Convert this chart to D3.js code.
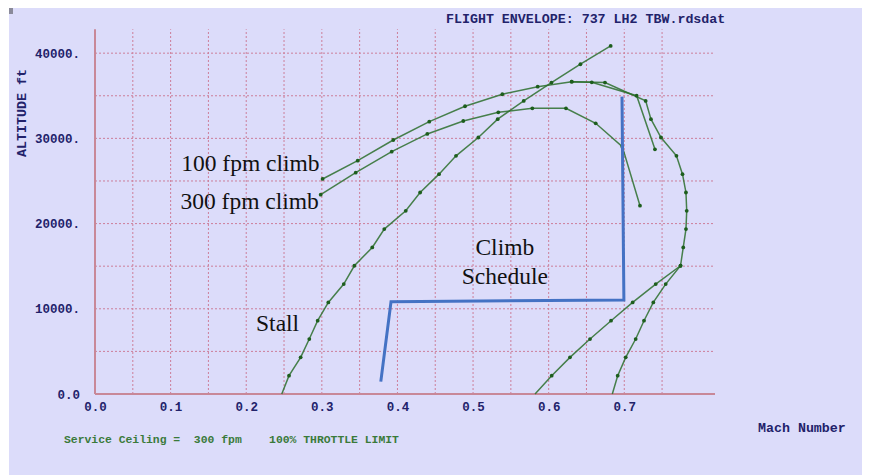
<!DOCTYPE html>
<html>
<head>
<meta charset="utf-8">
<script src="https://d3js.org/d3.v7.min.js"></script>
<style>
  body { margin: 0; background: #fff; }
  svg { display: block; }
</style>
</head>
<body>
<script>
// page size is fixed to the reference
var width = 871,
    height = 475;

// ---- data: [mach, altitude ft] ----
var stall = [
  [0.247, 0], [0.2566, 2150], [0.272, 4300], [0.2834, 6450], [0.2945, 8600],
  [0.3086, 10750], [0.329, 12900], [0.343, 15050], [0.3667, 17200], [0.3826, 19350],
  [0.411, 21500], [0.430, 23650], [0.455, 25800], [0.4775, 27950], [0.507, 30100],
  [0.5326, 32250], [0.567, 34400], [0.6037, 36550], [0.642, 38700], [0.682, 40850]
];

var climb100 = [
  [0.301, 25235], [0.3474, 27380], [0.3945, 29810], [0.4421, 31960], [0.4894, 33770],
  [0.5387, 35180], [0.5855, 36070], [0.6305, 36650], [0.6745, 36550], [0.7283, 34400],
  [0.7353, 32250], [0.7486, 30100], [0.769, 27950], [0.777, 25800], [0.7816, 23650],
  [0.7826, 21500], [0.7816, 19350], [0.778, 17200], [0.7744, 15050], [0.7548, 12900],
  [0.7384, 10750], [0.7261, 8600], [0.7151, 6450], [0.7019, 4300], [0.6913, 2150],
  [0.6842, 0]
];

var climb100Top = [
  [0.6305, 36650], [0.657, 36580], [0.7164, 35010], [0.7406, 28720]
];

var climb300 = [
  [0.2985, 23390], [0.3448, 25970], [0.3924, 28440], [0.4395, 30520], [0.4871, 32040],
  [0.5334, 33060], [0.5784, 33530], [0.6229, 33530], [0.6622, 31770], [0.6974, 29030],
  [0.7208, 22100]
];

var climb300Low = [
  [0.7744, 15050], [0.7416, 12900], [0.7111, 10750], [0.6825, 8600], [0.6547, 6450],
  [0.6282, 4300], [0.604, 2150], [0.582, 0]
];

var schedule = [
  [0.378, 1450], [0.3915, 10830], [0.6995, 11030], [0.697, 34900]
];

var machTicks = [0, 0.1, 0.2, 0.3, 0.4, 0.5, 0.6, 0.7];
var machGrid = [0.05, 0.1, 0.15, 0.2, 0.25, 0.3, 0.35, 0.4, 0.45, 0.5, 0.55, 0.6, 0.65, 0.7, 0.75];
var altTicks = [0, 10000, 20000, 30000, 40000];
var altGrid = [5000, 10000, 15000, 20000, 25000, 30000, 35000, 40000];

var notes = [
  { text: '100 fpm climb', m: 0.114, a: 26200, anchor: 'start' },
  { text: '300 fpm climb', m: 0.113, a: 21700, anchor: 'start' },
  { text: 'Stall', m: 0.213, a: 7400, anchor: 'start' },
  { text: 'Climb', m: 0.542, a: 16330, anchor: 'middle' },
  { text: 'Schedule', m: 0.542, a: 12920, anchor: 'middle' }
];

// scales: axis box runs from x 95 to 715, y 394 up to 29
var x = d3.scaleLinear().domain([0, 0.82]).range([95, 715]);
var y = d3.scaleLinear().domain([0, 42800]).range([394, 29.3]);

var svg = d3.select('body')
    .append('svg')
    .attr('width', width)
    .attr('height', height);

// lavender panel
svg.append('rect')
    .attr('x', 9).attr('y', 8)
    .attr('width', 853).attr('height', height - 8)
    .attr('fill', '#dcdcfa');

svg.append('rect')
    .attr('x', 9).attr('y', 8)
    .attr('width', 4).attr('height', 6)
    .attr('fill', '#8a8a9a');

// dotted grid
var grid = svg.append('g')
    .attr('stroke', '#c8607a')
    .attr('stroke-width', 1)
    .attr('stroke-dasharray', '2,2')
    .attr('opacity', 0.75);

grid.selectAll('.vg')
    .data(machGrid)
    .enter().append('line')
    .attr('x1', function(d) { return x(d); })
    .attr('x2', function(d) { return x(d); })
    .attr('y1', y(0))
    .attr('y2', y.range()[1]);

grid.selectAll('.hg')
    .data(altGrid)
    .enter().append('line')
    .attr('x1', x(0))
    .attr('x2', x.range()[1])
    .attr('y1', function(d) { return y(d); })
    .attr('y2', function(d) { return y(d); });

// axis lines
svg.append('line')
    .attr('x1', x(0)).attr('x2', x(0))
    .attr('y1', y(0)).attr('y2', y.range()[1])
    .attr('stroke', '#c88898').attr('stroke-width', 2);

svg.append('line')
    .attr('x1', x(0)).attr('x2', x.range()[1])
    .attr('y1', y(0)).attr('y2', y(0))
    .attr('stroke', '#c88898').attr('stroke-width', 2);

// tick labels through d3 axes, no tick marks
var mono = '"Courier New", "Nimbus Mono PS", "Liberation Mono", monospace';
var navy = '#22226a';

var xAxis = svg.append('g')
    .attr('transform', 'translate(0,' + y(0) + ')')
    .call(d3.axisBottom(x)
        .tickValues(machTicks)
        .tickSize(0)
        .tickPadding(8)
        .tickFormat(d3.format('.1f')));

var yAxis = svg.append('g')
    .attr('transform', 'translate(' + x(0) + ',0)')
    .call(d3.axisLeft(y)
        .tickValues(altTicks)
        .tickSize(0)
        .tickPadding(15)
        .tickFormat(function(d) { return d === 0 ? '0.0' : d + '.'; }));

[xAxis, yAxis].forEach(function(g) {
    g.select('.domain').remove();
    g.selectAll('text')
        .attr('fill', navy)
        .style('font-family', mono)
        .style('font-weight', 'bold')
        .style('font-size', '12.5px');
});

// titles
svg.append('text')
    .attr('x', 446).attr('y', 23)
    .attr('fill', navy)
    .style('font-family', mono).style('font-weight', 'bold').style('font-size', '13.3px')
    .text('FLIGHT ENVELOPE: 737 LH2 TBW.rdsdat');

svg.append('text')
    .attr('x', 758).attr('y', 432)
    .attr('fill', navy)
    .style('font-family', mono).style('font-weight', 'bold').style('font-size', '13.3px')
    .text('Mach Number');

svg.append('text')
    .attr('transform', 'translate(26,113) rotate(-90)')
    .attr('text-anchor', 'middle')
    .attr('fill', navy)
    .style('font-family', mono).style('font-weight', 'bold').style('font-size', '13.3px')
    .text('ALTITUDE ft');

svg.append('text')
    .attr('x', 64).attr('y', 443)
    .attr('fill', '#3a7a3a')
    .attr('xml:space', 'preserve')
    .style('white-space', 'pre')
    .style('font-family', mono).style('font-weight', 'bold').style('font-size', '11.4px')
    .text('Service Ceiling =  300 fpm    100% THROTTLE LIMIT');

// green envelope curves with point markers
var line = d3.line()
    .x(function(d) { return x(d[0]); })
    .y(function(d) { return y(d[1]); });

var curves = [stall, climb100, climb100Top, climb300, climb300Low];

svg.selectAll('.curve')
    .data(curves)
    .enter().append('path')
    .attr('class', 'curve')
    .attr('d', line)
    .attr('fill', 'none')
    .attr('stroke', '#2c6e2c')
    .attr('stroke-width', 1.5)
    .attr('opacity', 0.85);

var pts = svg.append('g').attr('fill', '#1d5e1d');
curves.forEach(function(c) {
    pts.selectAll(null)
        .data(c.filter(function(d) { return d[1] > 0; }))
        .enter().append('circle')
        .attr('cx', function(d) { return x(d[0]); })
        .attr('cy', function(d) { return y(d[1]); })
        .attr('r', 1.9);
});

// climb schedule in blue
svg.append('path')
    .datum(schedule)
    .attr('d', line)
    .attr('fill', 'none')
    .attr('stroke', '#4472c4')
    .attr('stroke-width', 3);

// serif annotations
svg.selectAll('.note')
    .data(notes)
    .enter().append('text')
    .attr('x', function(d) { return x(d.m); })
    .attr('y', function(d) { return y(d.a); })
    .attr('text-anchor', function(d) { return d.anchor; })
    .attr('fill', '#111')
    .style('font-family', '"Liberation Serif", "Times New Roman", serif')
    .style('font-size', '23.5px')
    .text(function(d) { return d.text; });
</script>
</body>
</html>
